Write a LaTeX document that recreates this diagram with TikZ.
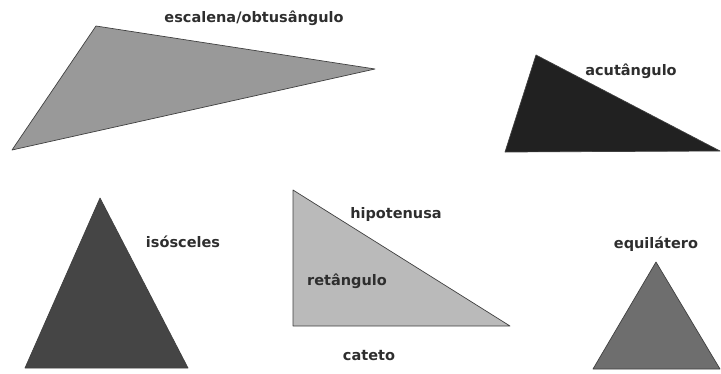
\documentclass[tikz,border=0pt]{standalone}
\usepackage{fontspec}
\setmainfont{DejaVu Sans}
\begin{document}
\begin{tikzpicture}[x=1pt,y=-1pt,
  lbl/.style={font=\bfseries\fontsize{14.5}{16}\selectfont, text=black!82, inner sep=0pt},
  tri/.style={draw=black!75, line width=0.7pt, line join=round}]
\useasboundingbox (0,0) rectangle (721,373);
% escalena / obtusangulo
\coordinate (a1) at (96,26); \coordinate (a2) at (375,69); \coordinate (a3) at (12,150);
\fill[tri, fill=black!40] (a1) -- (a2) -- (a3) -- cycle;
\node[lbl] (la) at (254,18) {escalena/obtusângulo};
% acutangulo
\coordinate (b1) at (536,55); \coordinate (b2) at (720,151); \coordinate (b3) at (505,152);
\fill[tri, fill=black!87] (b1) -- (b2) -- (b3) -- cycle;
\node[lbl] (lb) at (631,71) {acutângulo};
% isosceles
\coordinate (c1) at (100,198); \coordinate (c2) at (188,368); \coordinate (c3) at (25,368);
\fill[tri, fill=black!73] (c1) -- (c2) -- (c3) -- cycle;
\node[lbl] (lc) at (183,242) {isósceles};
% retangulo
\coordinate (d1) at (293,190); \coordinate (d2) at (510,326); \coordinate (d3) at (293,326);
\fill[tri, fill=black!27] (d1) -- (d2) -- (d3) -- cycle;
\node[lbl] (ld1) at (396,214) {hipotenusa};
\node[lbl] (ld2) at (347,281) {retângulo};
\node[lbl] (ld3) at (369,356) {cateto};
% equilatero
\coordinate (e1) at (656,262); \coordinate (e2) at (720,369); \coordinate (e3) at (593,369);
\fill[tri, fill=black!57] (e1) -- (e2) -- (e3) -- cycle;
\node[lbl] (le) at (656,244) {equilátero};
\end{tikzpicture}
\end{document}
